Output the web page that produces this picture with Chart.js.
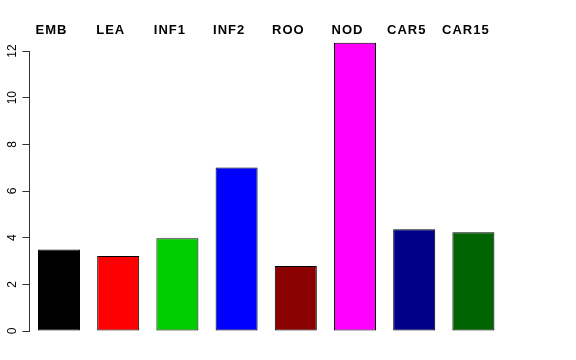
<!DOCTYPE html>
<html>
<head>
<meta charset="utf-8">
<script src="https://cdn.jsdelivr.net/npm/chart.js@4/dist/chart.umd.min.js"></script>
<style>
  html, body { margin: 0; padding: 0; background: #ffffff; }
  #wrap { width: 576px; height: 360px; }
</style>
</head>
<body>
<div id="wrap"><canvas id="chart" width="576" height="360"></canvas></div>
<script>
// valores
const tissues = ['EMB', 'LEA', 'INF1', 'INF2', 'ROO', 'NOD', 'CAR5', 'CAR15'];
const values = [3.49, 3.21, 3.98, 7.01, 2.79, 12.35, 4.36, 4.23];
const barColors = ['#000000', '#ff0000', '#00cd00', '#0000ff', '#8b0000', '#ff00ff', '#00008b', '#006400'];
const yTicks = [0, 2, 4, 6, 8, 10, 12];

// etiquetas en negrita encima del area del grafico (un poco a la izquierda del centro de cada barra)
const topLabels = {
    id: 'topLabels',
    afterDraw(chart) {
        const ctx = chart.ctx;
        const xs = chart.scales.x;
        ctx.save();
        ctx.font = 'bold 13px "Liberation Sans", Arial, sans-serif';
        if ('letterSpacing' in ctx) ctx.letterSpacing = '1px';
        ctx.fillStyle = '#000000';
        ctx.textAlign = 'center';
        ctx.textBaseline = 'alphabetic';
        tissues.forEach((name, i) => {
            ctx.fillText(name, xs.getPixelForValue(i) - 7.5, 34);
        });
        ctx.restore();
    }
};

new Chart(document.getElementById('chart'), {
    type: 'bar',
    data: {
        labels: tissues,
        datasets: [{
            data: values,
            backgroundColor: barColors,
            borderColor: '#000000',
            borderWidth: 1,
            borderSkipped: false,
            categoryPercentage: 1,
            barPercentage: 0.71,
            clip: false
        }]
    },
    options: {
        responsive: false,
        animation: false,
        layout: { padding: { left: 0, right: 73, top: 51, bottom: 29 } },
        plugins: {
            legend: { display: false },
            tooltip: { enabled: false }
        },
        scales: {
            x: { display: false },
            y: {
                min: 0,
                max: 12,
                afterBuildTicks: (scale) => { scale.ticks = yTicks.map(v => ({ value: v })); },
                afterFit: (scale) => { scale.width = 29.4; },
                border: { display: true, color: '#333333', width: 1 },
                grid: { drawOnChartArea: false, drawTicks: true, tickLength: 7, color: '#333333' },
                ticks: {
                    color: '#000000',
                    font: { family: '"Liberation Sans", Arial, sans-serif', size: 12 },
                    minRotation: 90,
                    maxRotation: 90,
                    crossAlign: 'center',
                    padding: 3
                }
            }
        }
    },
    plugins: [topLabels]
});
</script>
</body>
</html>
